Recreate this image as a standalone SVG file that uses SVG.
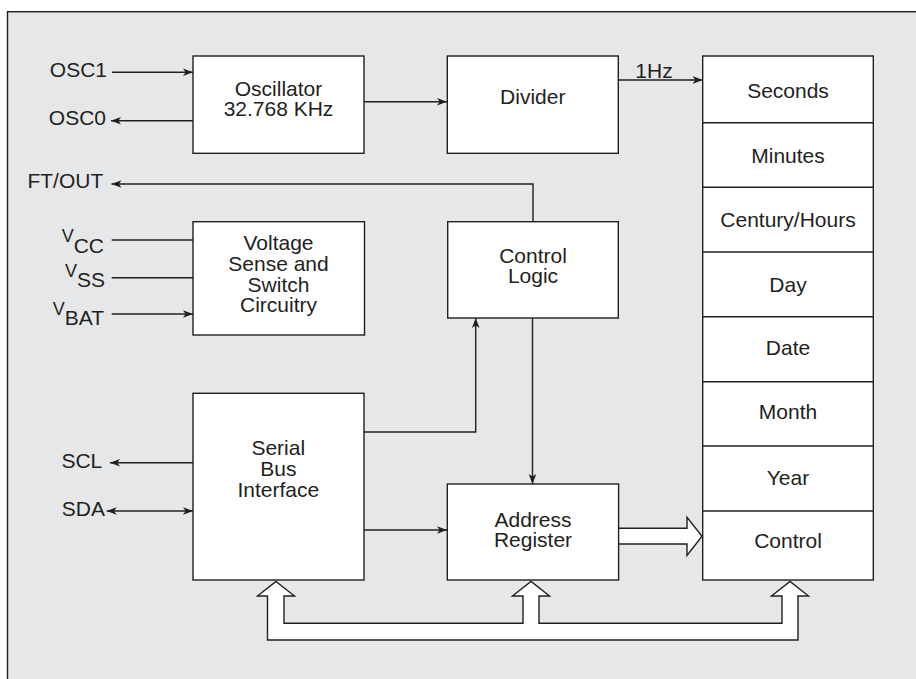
<svg xmlns="http://www.w3.org/2000/svg" width="916" height="679" viewBox="0 0 916 679">
<defs>
<style>
.box{fill:#fff;stroke:#231f20;stroke-width:1.4}
.ln{fill:none;stroke:#231f20;stroke-width:1.4}
.hollow{fill:#fff;stroke:#231f20;stroke-width:1.4;stroke-linejoin:miter}
text{font-family:"Liberation Sans",Arial,sans-serif;font-size:21px;fill:#231f20}
.c{text-anchor:middle}
.e{text-anchor:end}
</style>
<marker id="ah" markerUnits="userSpaceOnUse" markerWidth="12" markerHeight="10" viewBox="0 -5 12 10" refX="10" refY="0" orient="auto-start-reverse">
<path d="M0,-3.8 L10,0 L0,3.8 L2.6,0 Z" fill="#231f20"/>
</marker>
</defs>
<rect x="7.5" y="11.7" width="920" height="690" fill="#e6e7e8" stroke="#231f20" stroke-width="1.4"/>

<g id="connectors">
<line class="ln" x1="112" y1="72.3" x2="193" y2="72.3" marker-end="url(#ah)"/>
<line class="ln" x1="193" y1="120.7" x2="111" y2="120.7" marker-end="url(#ah)"/>
<line class="ln" x1="364" y1="101.7" x2="447" y2="101.7" marker-end="url(#ah)"/>
<line class="ln" x1="618" y1="80" x2="702.7" y2="80" marker-end="url(#ah)"/>
<polyline class="ln" points="533,222 533,184 111.5,184" marker-end="url(#ah)"/>
<line class="ln" x1="111.7" y1="240" x2="193" y2="240"/>
<line class="ln" x1="111.7" y1="277.7" x2="193" y2="277.7"/>
<line class="ln" x1="111.7" y1="314" x2="193" y2="314" marker-end="url(#ah)"/>
<line class="ln" x1="193" y1="462.7" x2="110" y2="462.7" marker-end="url(#ah)"/>
<line class="ln" x1="106.7" y1="511" x2="193" y2="511" marker-start="url(#ah)" marker-end="url(#ah)"/>
<polyline class="ln" points="364,432 475.7,432 475.7,318" marker-end="url(#ah)"/>
<line class="ln" x1="364" y1="530" x2="447" y2="530" marker-end="url(#ah)"/>
<line class="ln" x1="532.5" y1="318" x2="532.5" y2="484" marker-end="url(#ah)"/>
<polygon class="hollow" points="618,528.3 687,528.3 687,517.3 702,536.2 687,555.5 687,544 618,544"/>
<polygon class="hollow" points="276,581.5 294.5,596 284,596 284,623.3 523,623.3 523,596 512.5,596 531,581.5 549.5,596 539,596 539,623.3 782,623.3 782,596 771.5,596 790,581.5 808.5,596 798,596 798,640 267.5,640 267.5,596 257.5,596"/>
</g>

<g id="pin-labels">
<text x="107" y="77.3" class="e">OSC1</text>
<text x="106" y="125" class="e">OSC0</text>
<text x="103.3" y="187.7" class="e">FT/OUT</text>
<text x="104" y="252.7" class="e"><tspan font-size="18" dy="-11">V</tspan><tspan dy="11">CC</tspan></text>
<text x="105" y="287.3" class="e"><tspan font-size="18" dy="-10">V</tspan><tspan dy="10">SS</tspan></text>
<text x="104" y="325" class="e"><tspan font-size="18" dy="-10">V</tspan><tspan dy="10">BAT</tspan></text>
<text x="102.3" y="467.7" class="e">SCL</text>
<text x="105" y="515.7" class="e">SDA</text>
<text x="654" y="77.5" class="c">1Hz</text>
</g>

<g id="oscillator">
<rect class="box" x="193" y="56" width="171" height="97.3"/>
<text x="278.5" y="96" class="c">Oscillator</text>
<text x="278.5" y="115.7" class="c">32.768 KHz</text>
</g>

<g id="divider">
<rect class="box" x="447.3" y="56" width="171" height="97.3"/>
<text x="532.8" y="104" class="c">Divider</text>
</g>

<g id="voltage-sense">
<rect class="box" x="193" y="221.7" width="171.5" height="113.3"/>
<text x="278.5" y="250" class="c">Voltage</text>
<text x="278.5" y="271" class="c">Sense and</text>
<text x="278.5" y="291.7" class="c">Switch</text>
<text x="278.5" y="312.3" class="c">Circuitry</text>
</g>

<g id="control-logic">
<rect class="box" x="447.7" y="221.7" width="170.6" height="96.3"/>
<text x="533" y="262.7" class="c">Control</text>
<text x="533" y="283.3" class="c">Logic</text>
</g>

<g id="serial-bus">
<rect class="box" x="193" y="393.3" width="171" height="186.7"/>
<text x="278.3" y="455" class="c">Serial</text>
<text x="278.3" y="476" class="c">Bus</text>
<text x="278.3" y="497.3" class="c">Interface</text>
</g>

<g id="address-register">
<rect class="box" x="447.3" y="484" width="171.3" height="96"/>
<text x="533" y="526.7" class="c">Address</text>
<text x="533" y="546.7" class="c">Register</text>
</g>

<g id="registers">
<rect class="box" x="702.7" y="56" width="170.6" height="524"/>
<line class="ln" x1="702.7" y1="122.7" x2="873.3" y2="122.7"/>
<line class="ln" x1="702.7" y1="187.3" x2="873.3" y2="187.3"/>
<line class="ln" x1="702.7" y1="252" x2="873.3" y2="252"/>
<line class="ln" x1="702.7" y1="316.7" x2="873.3" y2="316.7"/>
<line class="ln" x1="702.7" y1="381.7" x2="873.3" y2="381.7"/>
<line class="ln" x1="702.7" y1="446" x2="873.3" y2="446"/>
<line class="ln" x1="702.7" y1="511" x2="873.3" y2="511"/>
<text x="788" y="98.3" class="c">Seconds</text>
<text x="788" y="163.3" class="c">Minutes</text>
<text x="788" y="226.7" class="c">Century/Hours</text>
<text x="788" y="291.7" class="c">Day</text>
<text x="788" y="355" class="c">Date</text>
<text x="788" y="419.3" class="c">Month</text>
<text x="788" y="485" class="c">Year</text>
<text x="788" y="548.3" class="c">Control</text>
</g>
</svg>
